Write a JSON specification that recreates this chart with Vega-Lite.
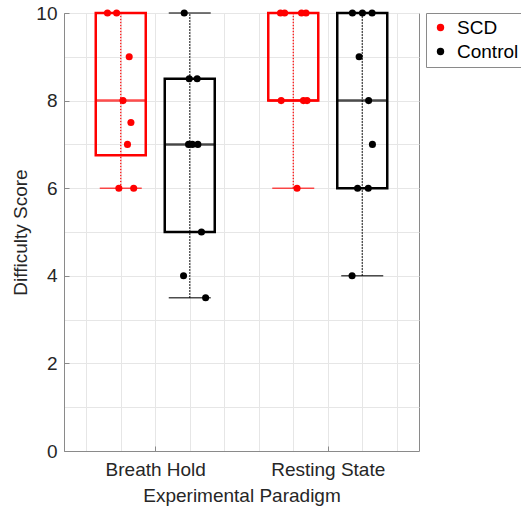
{
  "$schema": "https://vega.github.io/schema/vega-lite/v6.json",
  "autosize": {"type": "none"},
  "padding": {"left": 64, "top": 13, "right": 102, "bottom": 57},
  "width": 355,
  "height": 438,
  "background": "white",
  "config": {
    "font": "Liberation Sans",
    "view": {"stroke": "#8a8a8a", "strokeWidth": 1},
    "axis": {
      "domainColor": "#8a8a8a",
      "labelColor": "#262626",
      "titleColor": "#262626",
      "labelFont": "Liberation Sans",
      "titleFont": "Liberation Sans",
      "titleFontWeight": "normal",
      "gridColor": "#e6e6e6",
      "gridWidth": 1,
      "tickColor": "#8a8a8a"
    }
  },
  "datasets": {
    "boxes": [
      {"paradigm": "Breath Hold", "group": "SCD", "x": 0.8, "lo": 6, "q1": 6.75, "med": 8, "q3": 10, "hi": 10},
      {"paradigm": "Breath Hold", "group": "Control", "x": 1.2, "lo": 3.5, "q1": 5, "med": 7, "q3": 8.5, "hi": 10},
      {"paradigm": "Resting State", "group": "SCD", "x": 1.8, "lo": 6, "q1": 8, "med": 8, "q3": 10, "hi": 10},
      {"paradigm": "Resting State", "group": "Control", "x": 2.2, "lo": 4, "q1": 6, "med": 8, "q3": 10, "hi": 10}
    ],
    "points": [
      {"paradigm": "Breath Hold", "group": "SCD", "x": 0.723, "score": 10},
      {"paradigm": "Breath Hold", "group": "SCD", "x": 0.776, "score": 10},
      {"paradigm": "Breath Hold", "group": "SCD", "x": 0.849, "score": 9},
      {"paradigm": "Breath Hold", "group": "SCD", "x": 0.813, "score": 8},
      {"paradigm": "Breath Hold", "group": "SCD", "x": 0.859, "score": 7.5},
      {"paradigm": "Breath Hold", "group": "SCD", "x": 0.839, "score": 7},
      {"paradigm": "Breath Hold", "group": "SCD", "x": 0.789, "score": 6},
      {"paradigm": "Breath Hold", "group": "SCD", "x": 0.875, "score": 6},
      {"paradigm": "Breath Hold", "group": "Control", "x": 1.168, "score": 10},
      {"paradigm": "Breath Hold", "group": "Control", "x": 1.197, "score": 8.5},
      {"paradigm": "Breath Hold", "group": "Control", "x": 1.243, "score": 8.5},
      {"paradigm": "Breath Hold", "group": "Control", "x": 1.193, "score": 7},
      {"paradigm": "Breath Hold", "group": "Control", "x": 1.215, "score": 7},
      {"paradigm": "Breath Hold", "group": "Control", "x": 1.247, "score": 7},
      {"paradigm": "Breath Hold", "group": "Control", "x": 1.268, "score": 5},
      {"paradigm": "Breath Hold", "group": "Control", "x": 1.164, "score": 4},
      {"paradigm": "Breath Hold", "group": "Control", "x": 1.292, "score": 3.5},
      {"paradigm": "Resting State", "group": "SCD", "x": 1.726, "score": 10},
      {"paradigm": "Resting State", "group": "SCD", "x": 1.750, "score": 10},
      {"paradigm": "Resting State", "group": "SCD", "x": 1.848, "score": 10},
      {"paradigm": "Resting State", "group": "SCD", "x": 1.874, "score": 10},
      {"paradigm": "Resting State", "group": "SCD", "x": 1.730, "score": 8},
      {"paradigm": "Resting State", "group": "SCD", "x": 1.859, "score": 8},
      {"paradigm": "Resting State", "group": "SCD", "x": 1.880, "score": 8},
      {"paradigm": "Resting State", "group": "SCD", "x": 1.822, "score": 6},
      {"paradigm": "Resting State", "group": "Control", "x": 2.143, "score": 10},
      {"paradigm": "Resting State", "group": "Control", "x": 2.201, "score": 10},
      {"paradigm": "Resting State", "group": "Control", "x": 2.257, "score": 10},
      {"paradigm": "Resting State", "group": "Control", "x": 2.182, "score": 9},
      {"paradigm": "Resting State", "group": "Control", "x": 2.237, "score": 8},
      {"paradigm": "Resting State", "group": "Control", "x": 2.259, "score": 7},
      {"paradigm": "Resting State", "group": "Control", "x": 2.173, "score": 6},
      {"paradigm": "Resting State", "group": "Control", "x": 2.235, "score": 6},
      {"paradigm": "Resting State", "group": "Control", "x": 2.141, "score": 4}
    ]
  },
  "encoding": {
    "x": {
      "field": "x",
      "type": "quantitative",
      "scale": {"domain": [0.5, 2.5], "nice": false, "zero": false},
      "axis": {
        "values": [0.6, 0.8, 1, 1.2, 1.4, 1.6, 1.8, 2, 2.2, 2.4],
        "labelExpr": "datum.value == 1 ? 'Breath Hold' : (datum.value == 2 ? 'Resting State' : '')",
        "labelFontSize": 19,
        "labelPadding": 14,
        "tickSize": -5,
        "tickOpacity": {"condition": {"test": "datum.value == 1 || datum.value == 2", "value": 1}, "value": 0},
        "title": "Experimental Paradigm",
        "titleFontSize": 19,
        "titlePadding": 7,
        "grid": true,
        "labelOverlap": false
      }
    },
    "color": {
      "field": "group",
      "type": "nominal",
      "scale": {"domain": ["SCD", "Control"], "range": ["#ff0000", "#000000"]}
    }
  },
  "layer": [
    {
      "data": {"name": "boxes"},
      "mark": {"type": "rule", "strokeDash": [1.5, 1.5], "strokeWidth": 1.2},
      "encoding": {
        "y": {
          "field": "lo",
          "type": "quantitative",
          "scale": {"domain": [0, 10], "nice": false},
          "axis": {
            "values": [0, 0.5, 1, 1.5, 2, 2.5, 3, 3.5, 4, 4.5, 5, 5.5, 6, 6.5, 7, 7.5, 8, 8.5, 9, 9.5, 10],
            "labelExpr": "datum.value % 2 == 0 ? datum.label : ''",
            "labelFontSize": 19,
            "labelPadding": 12,
            "tickSize": -5,
            "tickOpacity": {"condition": {"test": "datum.value % 2 == 0", "value": 1}, "value": 0},
            "title": "Difficulty Score",
            "titleFontSize": 19,
            "titlePadding": 5,
            "grid": true,
            "labelOverlap": false
          }
        },
        "y2": {"field": "hi"}
      }
    },
    {
      "data": {"name": "boxes"},
      "mark": {"type": "bar", "size": 50, "filled": false, "fill": "transparent", "strokeWidth": 2.5},
      "encoding": {
        "y": {"field": "q1", "type": "quantitative"},
        "y2": {"field": "q3"}
      }
    },
    {
      "data": {"name": "boxes"},
      "mark": {"type": "tick", "orient": "horizontal", "size": 50, "thickness": 2.5},
      "encoding": {
        "y": {"field": "med", "type": "quantitative"}
      }
    },
    {
      "data": {"name": "boxes"},
      "mark": {"type": "tick", "orient": "horizontal", "size": 42, "thickness": 1.5},
      "encoding": {
        "y": {"field": "lo", "type": "quantitative"}
      }
    },
    {
      "data": {"name": "boxes"},
      "mark": {"type": "tick", "orient": "horizontal", "size": 42, "thickness": 1.5},
      "encoding": {
        "y": {"field": "hi", "type": "quantitative"}
      }
    },
    {
      "data": {"name": "points"},
      "mark": {"type": "point", "filled": true, "shape": "circle", "size": 50, "opacity": 1},
      "encoding": {
        "y": {"field": "score", "type": "quantitative"},
        "color": {
          "field": "group",
          "type": "nominal",
          "scale": {"domain": ["SCD", "Control"], "range": ["#ff0000", "#000000"]},
          "legend": {
            "title": null,
            "orient": "none",
            "legendX": 362,
            "legendY": 0,
            "strokeColor": "#8a8a8a",
            "fillColor": "white",
            "padding": 5,
            "labelFontSize": 19,
            "labelFont": "Liberation Sans",
            "labelColor": "#000000",
            "symbolType": "circle",
            "symbolSize": 55,
            "symbolStrokeWidth": 0,
            "labelOffset": 7,
            "rowPadding": 4,
            "encode": {
              "symbols": {
                "update": {
                  "fill": {"scale": "color", "field": "value"},
                  "stroke": {"value": "transparent"},
                  "opacity": {"value": 1}
                }
              }
            }
          }
        }
      }
    }
  ]
}
